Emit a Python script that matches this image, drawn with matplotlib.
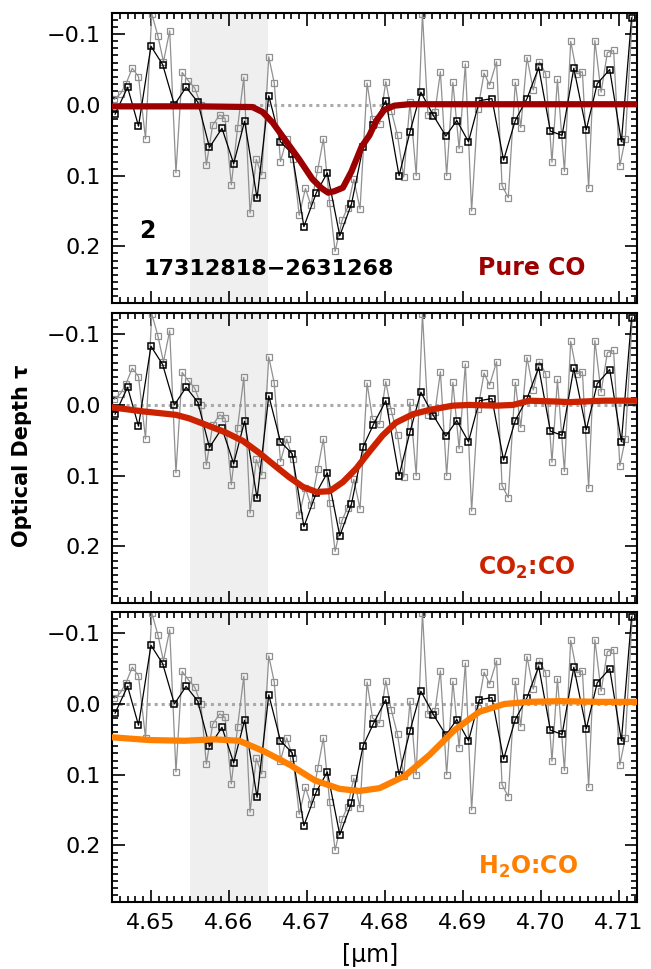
#%%
# Import necessary libraries
import matplotlib.pyplot as plt
from matplotlib.ticker import MultipleLocator, FixedLocator, FixedFormatter

# Spectrum, full resolution (gray)
wave_fine = [4.6453, 4.6461, 4.6468, 4.6476, 4.6484, 4.6493, 4.6501, 4.6509, 4.6516, 4.6524,
             4.6532, 4.6540, 4.6548, 4.6556, 4.6564, 4.6571, 4.6579, 4.6588, 4.6595, 4.6603,
             4.6611, 4.6619, 4.6627, 4.6635, 4.6642, 4.6651, 4.6658, 4.6666, 4.6674, 4.6682,
             4.6690, 4.6698, 4.6705, 4.6714, 4.6721, 4.6729, 4.6736, 4.6745, 4.6752, 4.6760,
             4.6768, 4.6777, 4.6784, 4.6793, 4.6801, 4.6808, 4.6816, 4.6824, 4.6832, 4.6840,
             4.6848, 4.6855, 4.6864, 4.6871, 4.6879, 4.6887, 4.6895, 4.6903, 4.6911, 4.6919,
             4.6927, 4.6934, 4.6943, 4.6950, 4.6958, 4.6967, 4.6974, 4.6982, 4.6990, 4.6998,
             4.7006, 4.7014, 4.7021, 4.7030, 4.7038, 4.7046, 4.7053, 4.7061, 4.7069, 4.7077,
             4.7085, 4.7093, 4.7101, 4.7108, 4.7117]
tau_fine = [-0.008, -0.016, -0.030, -0.052, -0.040, 0.048, -0.129, -0.097, -0.061, -0.105,
            0.096, -0.046, -0.034, -0.024, 0.000, 0.085, 0.029, 0.014, 0.019, 0.113,
            0.032, -0.039, 0.153, 0.077, 0.099, -0.068, -0.031, 0.080, 0.048, 0.076,
            0.156, 0.118, 0.142, 0.090, 0.048, 0.138, 0.207, 0.163, 0.145, 0.105,
            0.147, -0.031, 0.020, 0.027, -0.033, 0.008, 0.043, 0.102, -0.004, 0.100,
            -0.129, 0.014, 0.010, -0.047, 0.100, -0.032, 0.062, -0.058, 0.150, 0.006,
            -0.045, -0.028, -0.061, 0.114, 0.131, -0.032, 0.032, -0.067, -0.021, -0.061,
            -0.044, 0.081, -0.036, 0.094, -0.090, -0.044, -0.047, 0.118, -0.091, -0.018,
            -0.074, -0.077, 0.086, 0.048, -0.125]

# Spectrum, binned (black)
wave_bin = [4.6454, 4.6470, 4.6484, 4.6500, 4.6515, 4.6530, 4.6545, 4.6560, 4.6575, 4.6591,
            4.6606, 4.6620, 4.6636, 4.6651, 4.6666, 4.6681, 4.6696, 4.6712, 4.6726, 4.6742,
            4.6757, 4.6772, 4.6785, 4.6801, 4.6818, 4.6832, 4.6846, 4.6862, 4.6878, 4.6892,
            4.6907, 4.6921, 4.6937, 4.6952, 4.6967, 4.6982, 4.6997, 4.7012, 4.7027, 4.7042,
            4.7058, 4.7072, 4.7088, 4.7103, 4.7116]
tau_bin = [0.013, -0.025, 0.030, -0.083, -0.057, 0.000, -0.025, -0.004, 0.060, 0.033,
           0.083, 0.023, 0.132, -0.013, 0.052, 0.069, 0.172, 0.124, 0.096, 0.185,
           0.140, 0.059, 0.028, -0.006, 0.100, 0.038, -0.018, 0.015, 0.044, 0.022,
           0.052, -0.006, -0.009, 0.078, 0.022, -0.009, -0.053, 0.037, 0.043, -0.052,
           0.035, -0.030, -0.050, 0.052, -0.123]

# Lab ice models
wave_pure = [4.6449, 4.6500, 4.6560, 4.6630, 4.6643, 4.6656, 4.6673, 4.6690, 4.6707, 4.6719,
             4.6727, 4.6735, 4.6746, 4.6757, 4.6770, 4.6780, 4.6789, 4.6799, 4.6812, 4.6831,
             4.6883, 4.7000, 4.7123]
tau_pure = [0.002, 0.002, 0.002, 0.003, 0.010, 0.025, 0.051, 0.077, 0.105, 0.118,
            0.124, 0.122, 0.117, 0.094, 0.059, 0.043, 0.022, 0.007, 0.001, -0.001,
            -0.001, -0.001, -0.001]

wave_co2 = [4.6447, 4.6489, 4.6532, 4.6549, 4.6575, 4.6596, 4.6618, 4.6639, 4.6660, 4.6677,
            4.6695, 4.6712, 4.6729, 4.6746, 4.6763, 4.6780, 4.6797, 4.6814, 4.6836, 4.6857,
            4.6887, 4.6908, 4.6943, 4.6964, 4.6985, 4.7015, 4.7037, 4.7058, 4.7080, 4.7123]
tau_co2 = [0.003, 0.009, 0.014, 0.019, 0.030, 0.039, 0.051, 0.068, 0.087, 0.102,
           0.116, 0.123, 0.122, 0.109, 0.090, 0.066, 0.043, 0.025, 0.013, 0.007,
           0.001, 0.000, 0.001, 0.000, -0.006, -0.005, -0.004, -0.005, -0.006, -0.006]

wave_h2o = [4.6449, 4.6498, 4.6543, 4.6581, 4.6613, 4.6645, 4.6678, 4.6710, 4.6742, 4.6767,
            4.6793, 4.6825, 4.6857, 4.6889, 4.6921, 4.6953, 4.6985, 4.7024, 4.7075, 4.7123]
tau_h2o = [0.047, 0.051, 0.052, 0.050, 0.052, 0.067, 0.086, 0.108, 0.120, 0.123,
           0.119, 0.102, 0.072, 0.037, 0.011, 0.000, -0.003, -0.004, -0.003, -0.003]

models = [(wave_pure, tau_pure, '#9c0000', 'Pure CO'),
          (wave_co2, tau_co2, '#cc2200', 'CO$_\\mathbf{2}$:CO'),
          (wave_h2o, tau_h2o, '#ff7f00', 'H$_\\mathbf{2}$O:CO')]

xticks = [4.65, 4.66, 4.67, 4.68, 4.69, 4.70, 4.71]
xlabels = ['4.65', '4.66', '4.67', '4.68', '4.69', '4.70', '4.71']
yticks = [-0.1, 0.0, 0.1, 0.2]
ylabels = ['\u22120.1', '0.0', '0.1', '0.2']

#%%
# Plot the three panels
fig = plt.figure(figsize=(6.51, 9.69), dpi=100)
bottoms = [0.6873, 0.3777, 0.0691]

for i, (mw, mt, col, name) in enumerate(models):
    ax = fig.add_axes([0.172, bottoms[i], 0.8065, 0.2993])
    ax.axvspan(4.655, 4.665, color='#efefef', lw=0, zorder=0)
    ax.axhline(0, color='#aaaaaa', lw=2.2, ls=(0, (1, 1.3)), zorder=1)
    ax.plot(wave_fine, tau_fine, color='#909090', lw=0.9, marker='s', ms=4.5,
            mfc='none', mec='#909090', mew=0.9, zorder=2)
    ax.plot(wave_bin, tau_bin, color='black', lw=0.9, marker='s', ms=5,
            mfc='none', mec='black', mew=1.1, zorder=3)
    ax.plot(mw, mt, color=col, lw=4.5, solid_capstyle='butt', zorder=4)

    ax.set_xlim(4.645, 4.7123)
    ax.set_ylim(0.28, -0.13)
    ax.xaxis.set_major_locator(FixedLocator(xticks))
    ax.xaxis.set_minor_locator(MultipleLocator(0.001))
    ax.yaxis.set_major_locator(FixedLocator(yticks))
    ax.yaxis.set_major_formatter(FixedFormatter(ylabels))
    ax.yaxis.set_minor_locator(MultipleLocator(0.01))
    ax.tick_params(which='both', direction='in', top=True, right=True, width=1.2)
    ax.tick_params(which='major', length=9, labelsize=16, pad=8)
    ax.tick_params(which='minor', length=4.5)
    for s in ax.spines.values():
        s.set_linewidth(1.5)
    if i < 2:
        ax.set_xticklabels([])
    else:
        ax.xaxis.set_major_formatter(FixedFormatter(xlabels))

    ax.text(4.6919, 0.231, name, color=col, fontsize=17, fontweight='bold', va='center')
    if i == 0:
        ax.text(4.6485, 0.178, '2', fontsize=17, fontweight='bold', va='center')
        ax.text(4.6491, 0.232, '17312818\u22122631268', fontsize=16, fontweight='bold', va='center')

fig.text(0.034, 0.530, 'Optical Depth \u03c4', rotation=90, fontsize=15,
         fontweight='bold', ha='center', va='center')
fig.text(0.568, 0.0144, '[\u03bcm]', fontsize=17, ha='center', va='center')

plt.savefig('out.png', dpi=100)
